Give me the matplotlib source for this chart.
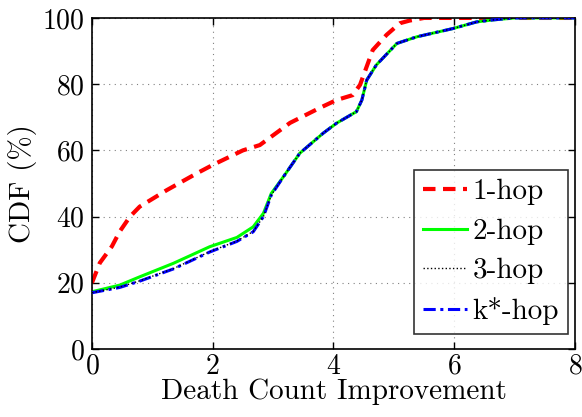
import matplotlib
matplotlib.use("Agg")
import matplotlib.pyplot as plt

plt.rcParams["font.family"] = ["cmr10", "DejaVu Serif"]
plt.rcParams["mathtext.fontset"] = "cm"
plt.rcParams["axes.formatter.use_mathtext"] = True

# DATA
x_1hop = [0, 0.13, 0.33, 0.46, 0.63, 0.79, 1.24, 1.73, 2.0, 2.5, 2.78, 3.28,
          3.77, 4.05, 4.32, 4.44, 4.55, 4.65, 4.88, 5.1, 5.26, 5.5, 8]
y_1hop = [20, 26, 31, 35.5, 40, 43, 48, 53, 55.6, 60, 61.6, 68.3,
          72.8, 75.2, 76.7, 79.8, 85.3, 90.3, 94.9, 98.4, 99.2, 100, 100]

x_2hop = [0, 0.46, 0.79, 1.35, 1.95, 2.4, 2.67, 2.84, 2.97, 3.17, 3.44, 3.83,
          4.05, 4.38, 4.47, 4.55, 4.71, 5.05, 5.38, 5.98, 6.37, 6.64, 7.0, 8]
y_2hop = [17.3, 19.3, 21.8, 25.9, 30.9, 33.7, 36.9, 41, 47, 52, 59.1, 65.2,
          68.2, 71.7, 75.2, 81.2, 85.8, 92.3, 94.3, 96.8, 98.8, 99.4, 100, 100]

x_3hop = [0, 0.46, 0.79, 1.35, 1.95, 2.4, 2.67, 2.84, 2.97, 3.17, 3.44, 3.83,
          4.05, 4.38, 4.47, 4.55, 4.71, 5.05, 5.38, 5.98, 6.37, 6.64, 7.0, 8]
y_3hop = [17.0, 18.7, 20.6, 24.3, 29.4, 32.6, 35.5, 40, 46.5, 52, 59.1, 65.2,
          68.2, 71.7, 75.2, 81.2, 85.8, 92.3, 94.3, 96.8, 98.8, 99.4, 100, 100]

x_khop = x_3hop
y_khop = [17.0, 18.6, 20.5, 24.2, 29.3, 32.5, 35.4, 40, 46.5, 52, 59.1, 65.2,
          68.2, 71.7, 75.2, 81.2, 85.8, 92.3, 94.3, 96.8, 98.8, 99.4, 100, 100]

fig = plt.figure(figsize=(5.82, 4.17), dpi=100)
ax = fig.add_axes([0.158, 0.163, 0.830, 0.794])

ax.plot(x_1hop, y_1hop, color="#ff0000", linestyle=(0, (3, 1.8)), linewidth=3,
        label="1-hop")
ax.plot(x_2hop, y_2hop, color="#00ff00", linestyle="-", linewidth=2.2,
        label="2-hop")
ax.plot(x_3hop, y_3hop, color="black", linestyle=":", linewidth=1,
        label="3-hop", zorder=4)
ax.plot(x_khop, y_khop, color="#0000ff", linestyle=(0, (4, 1.5, 1, 1.5)),
        linewidth=2.2, label="k*-hop", zorder=3)

# LIMITS
ax.set_xlim(0, 8)
ax.set_ylim(0, 100)
ax.set_xticks([0, 2, 4, 6, 8])
ax.set_yticks([0, 20, 40, 60, 80, 100])

# GRID
ax.grid(True, color="#808080", linestyle=(0, (1, 4)), linewidth=0.8)

ax.tick_params(direction="in", top=True, right=True, labelsize=20,
               length=5, width=1, pad=5)
ax.tick_params(axis="x", pad=3)
for s in ax.spines.values():
    s.set_linewidth(1.2)

# LABELS
ax.set_xlabel("Death Count Improvement", fontsize=21, labelpad=-1)
ax.set_ylabel("CDF (%)", fontsize=21, labelpad=4)

leg = ax.legend(loc="lower right", fontsize=21, frameon=True, fancybox=False,
                edgecolor="black", handlelength=1.5, labelspacing=0.45,
                borderpad=0.3, handletextpad=0.2, borderaxespad=0,
                bbox_to_anchor=(0.985, 0.045))
leg.get_frame().set_linewidth(1.2)

fig.savefig("out.png", dpi=100)
